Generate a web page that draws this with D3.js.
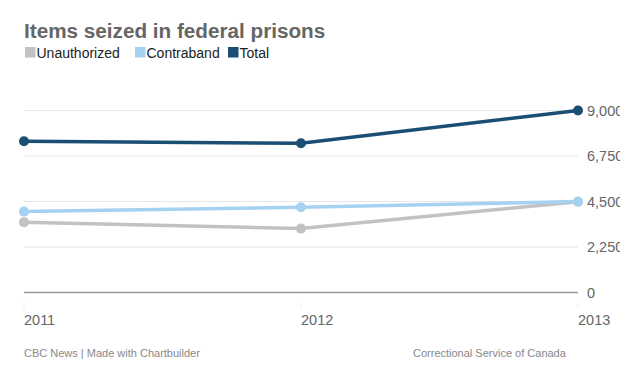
<!DOCTYPE html>
<html>
<head>
<meta charset="utf-8">
<script src="https://cdn.jsdelivr.net/npm/d3@7"></script>
<style>
  body { margin: 0; background: #fff; }
  svg { display: block; font-family: "Liberation Sans", Arial, sans-serif; }
</style>
</head>
<body>
<div id="chart"></div>
<script>
var years = ["2011", "2012", "2013"];
var unauthorized = [3480, 3160, 4490];
var contraband = [4000, 4220, 4500];
var total = [7480, 7380, 9000];
var yTicks = [0, 2250, 4500, 6750, 9000];

var series = [
  { name: "Unauthorized", values: unauthorized, color: "#c2c2c2" },
  { name: "Contraband", values: contraband, color: "#a5d2f0" },
  { name: "Total", values: total, color: "#1b4e73" }
];

var width = 620, height = 366;
var svg = d3.select("#chart").append("svg")
  .attr("width", width).attr("height", height);

var x = d3.scalePoint().domain(years).range([24, 578]);
var y = d3.scaleLinear().domain([0, 9000]).range([292.5, 110.5]);

// title + legend
svg.append("text")
  .attr("x", 24).attr("y", 38)
  .style("font-size", "20.7px").style("font-weight", "bold").style("fill", "#666")
  .text("Items seized in federal prisons");

var legendX = [25, 135, 228];
var lg = svg.selectAll("g.legend").data(series).enter().append("g")
  .attr("transform", function (d, i) { return "translate(" + legendX[i] + ",47)"; });
lg.append("rect").attr("width", 10.5).attr("height", 10.5)
  .style("fill", function (d) { return d.color; });
lg.append("text").attr("x", 11.5).attr("y", 10.5)
  .style("font-size", "14px").style("fill", "#222")
  .text(function (d) { return d.name; });

// grid
svg.selectAll("line.grid").data(yTicks.slice(1)).enter().append("line")
  .attr("x1", 24).attr("x2", 578)
  .attr("y1", function (d) { return y(d); }).attr("y2", function (d) { return y(d); })
  .style("stroke", "#e6e6e6").style("stroke-width", 1);
svg.append("line")
  .attr("x1", 24).attr("x2", 578).attr("y1", y(0)).attr("y2", y(0))
  .style("stroke", "#999").style("stroke-width", 1.5);

// y labels
svg.selectAll("text.ylab").data(yTicks).enter().append("text")
  .attr("x", 587).attr("y", function (d) { return y(d) + 5; })
  .style("font-size", "14.5px").style("fill", "#666")
  .text(function (d) { return d3.format(",")(d); });

// x ticks + labels
svg.selectAll("line.xt").data(years).enter().append("line")
  .attr("x1", function (d) { return x(d); }).attr("x2", function (d) { return x(d); })
  .attr("y1", 303).attr("y2", 308)
  .style("stroke", "#eee");
svg.selectAll("text.xlab").data(years).enter().append("text")
  .attr("x", function (d) { return x(d); }).attr("y", 325)
  .style("font-size", "14.5px").style("fill", "#666")
  .text(function (d) { return d; });

// lines
var line = d3.line()
  .x(function (d, i) { return x(years[i]); })
  .y(function (d) { return y(d); });

series.forEach(function (s) {
  svg.append("path").datum(s.values)
    .attr("d", line)
    .style("fill", "none").style("stroke", s.color).style("stroke-width", 3.5);
  svg.selectAll(null).data(s.values).enter().append("circle")
    .attr("cx", function (d, i) { return x(years[i]); })
    .attr("cy", function (d) { return y(d); })
    .attr("r", 5)
    .style("fill", s.color);
});

// footer
svg.append("text").attr("x", 24).attr("y", 357)
  .style("font-size", "11px").style("fill", "#888")
  .text("CBC News | Made with Chartbuilder");
svg.append("text").attr("x", 413).attr("y", 357)
  .style("font-size", "11px").style("fill", "#888")
  .text("Correctional Service of Canada");
</script>
</body>
</html>
